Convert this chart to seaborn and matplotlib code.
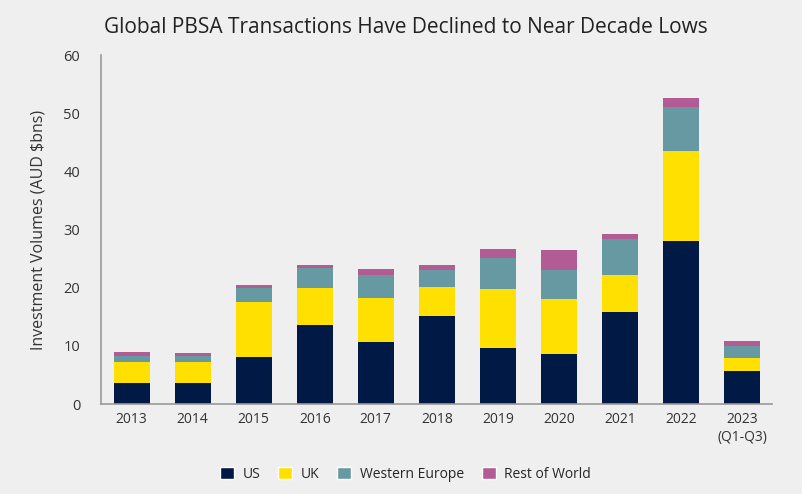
import numpy as np
import pandas as pd
import matplotlib
matplotlib.use("Agg")
import matplotlib.pyplot as plt
import seaborn as sns
from matplotlib.patches import Patch

# data (AUD $bns)
years = ["2013", "2014", "2015", "2016", "2017", "2018", "2019", "2020", "2021", "2022", "2023\n(Q1-Q3)"]
us = [3.6, 3.6, 8.1, 13.6, 10.65, 15.1, 9.6, 8.6, 15.8, 28.0, 5.7]
uk = [3.6, 3.6, 9.45, 6.35, 7.55, 5.0, 10.15, 9.45, 6.35, 15.5, 2.25]
west_europe = [1.05, 1.05, 2.4, 3.45, 3.95, 2.9, 5.35, 5.0, 6.2, 7.55, 2.05]
rest_world = [0.7, 0.5, 0.5, 0.5, 1.05, 0.85, 1.55, 3.45, 0.85, 1.55, 0.85]

series = ["US", "UK", "Western Europe", "Rest of World"]
colors = ["#001A45", "#FFE000", "#6699A1", "#B35B95"]

df = pd.DataFrame({"year": years, "US": us, "UK": uk,
                   "Western Europe": west_europe, "Rest of World": rest_world})

bg = "#EEEFEE"
sns.set_style("white")
plt.rcParams["font.family"] = ["Open Sans", "DejaVu Sans"]

fig, ax = plt.subplots(figsize=(8.03, 4.94), dpi=100)
fig.patch.set_facecolor(bg)
ax.set_facecolor(bg)

# stacked bars: draw cumulative totals, tallest first
cum = df[series].cumsum(axis=1)
for s, c in reversed(list(zip(series, colors))):
    sns.barplot(x=df["year"], y=cum[s], color=c, width=0.59, ax=ax,
                saturation=1, linewidth=0)

ax.set_ylim(0, 60)
ax.set_xlim(-0.5, len(years) - 0.5)
ax.set_yticks(range(0, 61, 10))
ax.set_xlabel("")
ax.set_ylabel("Investment Volumes (AUD $bns)", fontsize=11.5, color="#333333", labelpad=12)
ax.tick_params(axis="x", labelsize=10, colors="#333333", length=0, pad=6)
ax.tick_params(axis="y", labelsize=10.5, colors="#333333", length=0, pad=15)

for sp in ["top", "right"]:
    ax.spines[sp].set_visible(False)
for sp in ["left", "bottom"]:
    ax.spines[sp].set_color("#999999")
    ax.spines[sp].set_linewidth(1.2)

fig.suptitle("Global PBSA Transactions Have Declined to Near Decade Lows",
             fontsize=15, color="#222222", x=0.505, y=0.965)

handles = [Patch(facecolor=c, label=s) for s, c in zip(series, colors)]
fig.legend(handles=handles, loc="lower center", ncol=4, frameon=False,
           fontsize=10, bbox_to_anchor=(0.505, 0.0), handlelength=1.0,
           handleheight=1.0, columnspacing=1.3, handletextpad=0.6)

plt.subplots_adjust(left=0.126, right=0.962, top=0.888, bottom=0.182)
plt.savefig("out.png", dpi=100, facecolor=bg)
